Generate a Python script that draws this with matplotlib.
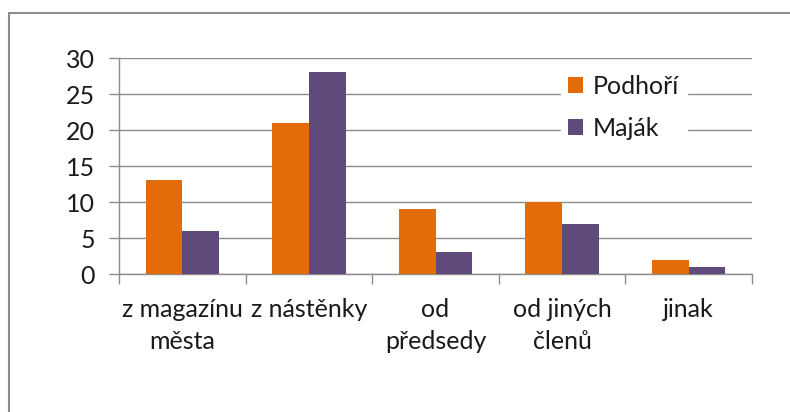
import matplotlib
matplotlib.use('Agg')
import matplotlib.pyplot as plt
import matplotlib.patches as patches
import numpy as np

# data
categories = ['z magazínu\nměsta', 'z nástěnky', 'od\npředsedy', 'od jiných\nčlenů', 'jinak']
podhori = [13, 21, 9, 10, 2]
majak = [6, 28, 3, 7, 1]
series_names = ['Podhoří', 'Maják']

COLOR_ORANGE = '#E36C09'
COLOR_PURPLE = '#604A7B'
COLOR_GRID = '#8c8c8c'
COLOR_TEXT = '#1a1a1a'

plt.rcParams['font.family'] = ['Lato', 'DejaVu Sans']

fig = plt.figure(figsize=(7.9, 4.12), dpi=100)
ax = fig.add_axes([119 / 790, 1 - 274 / 412, (752 - 119) / 790, (274 - 58) / 412])

# outer chart frame (only left/top visible in the original)
frame = patches.Rectangle((9 / 790, -0.1), 1.2, 1 - 13 / 412 + 0.1,
                          transform=fig.transFigure, fill=False,
                          edgecolor='#8c8c8c', linewidth=1.5, clip_on=False)
fig.add_artist(frame)

x = np.arange(len(categories))
w = 0.29
ax.bar(x - w / 2, podhori, w, color=COLOR_ORANGE, label=series_names[0], zorder=3)
ax.bar(x + w / 2, majak, w, color=COLOR_PURPLE, label=series_names[1], zorder=3)

ax.set_xlim(-0.5, len(categories) - 0.5)
ax.set_ylim(0, 30)
ax.set_yticks(range(0, 31, 5))
ax.yaxis.grid(True, color=COLOR_GRID, linewidth=1, zorder=0)
ax.set_axisbelow(True)

for s in ['top', 'right']:
    ax.spines[s].set_visible(False)
for s in ['left', 'bottom']:
    ax.spines[s].set_color(COLOR_GRID)
    ax.spines[s].set_linewidth(1)

ax.set_xticks(np.arange(-0.5, len(categories), 1))
ax.set_xticklabels([])
ax.set_xticks(x, minor=True)
ax.set_xticklabels(categories, minor=True, fontsize=18, color=COLOR_TEXT, linespacing=1.5)
ax.tick_params(axis='x', which='major', length=7, color=COLOR_GRID, width=1)
ax.tick_params(axis='x', which='minor', length=0, pad=17)
ax.tick_params(axis='y', length=7, color=COLOR_GRID, width=1, pad=10.5,
               labelsize=18, labelcolor=COLOR_TEXT)

leg = ax.legend(loc='upper left', bbox_to_anchor=(548 / 790, 1 - 55 / 412),
                bbox_transform=fig.transFigure, frameon=True, fancybox=False,
                edgecolor='white', facecolor='white', framealpha=1,
                fontsize=18, handlelength=0.6, handleheight=0.6,
                handletextpad=0.4, labelspacing=0.75, borderpad=0.3)
for t in leg.get_texts():
    t.set_color(COLOR_TEXT)

fig.savefig('out.png', dpi=100, facecolor='white')
